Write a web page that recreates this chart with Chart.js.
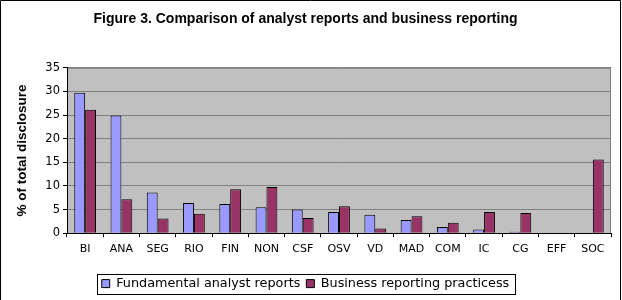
<!DOCTYPE html>
<html>
<head>
<meta charset="utf-8">
<script src="https://cdn.jsdelivr.net/npm/chart.js@4/dist/chart.umd.min.js"></script>
<style>
  html, body { margin: 0; padding: 0; background: #fff; }
  #wrap { position: relative; width: 622px; height: 300px; }
</style>
</head>
<body>
<div id="wrap"><canvas id="chart" width="622" height="300"></canvas></div>
<script>
const categories = ["BI", "ANA", "SEG", "RIO", "FIN", "NON", "CSF", "OSV", "VD", "MAD", "COM", "IC", "CG", "EFF", "SOC"];
const fundamental = [29.7, 24.9, 8.6, 6.4, 6.2, 5.5, 5.0, 4.5, 3.9, 2.8, 1.3, 0.8, 0.3, 0, 0];
const business = [26.1, 7.2, 3.1, 4.1, 9.3, 9.8, 3.2, 5.7, 1.0, 3.6, 2.2, 4.5, 4.3, 0, 15.6];
const yTicks = [0, 5, 10, 15, 20, 25, 30, 35];

const BLUE = "#9999ff";
const RED = "#993366";

// grey plot background + outer frame + legend box
const decor = {
  id: "decor",
  beforeDraw(chart) {
    const { ctx, chartArea: a } = chart;
    ctx.save();
    ctx.fillStyle = "#c0c0c0";
    ctx.fillRect(a.left, a.top, a.right - a.left, a.bottom - a.top);
    ctx.strokeStyle = "#808080";
    ctx.lineWidth = 1;
    ctx.beginPath();
    ctx.moveTo(a.left, a.top + 0.5);
    ctx.lineTo(a.right - 0.5, a.top + 0.5);
    ctx.lineTo(a.right - 0.5, a.bottom);
    ctx.stroke();
    ctx.restore();
  },
  afterDraw(chart) {
    const ctx = chart.ctx;
    ctx.save();
    ctx.strokeStyle = "#000";
    ctx.lineWidth = 1;
    ctx.beginPath();
    ctx.moveTo(0.5, 300);
    ctx.lineTo(0.5, 0.5);
    ctx.lineTo(620.5, 0.5);
    ctx.lineTo(620.5, 300);
    ctx.stroke();

    const hb = chart.legend.legendHitBoxes;
    if (hb && hb.length) {
      const l = Math.min(...hb.map((h) => h.left)) - 5;
      const r = Math.max(...hb.map((h) => h.left + h.width)) + 5;
      const t = hb[0].top - 3;
      const b = hb[0].top + hb[0].height + 4;
      ctx.strokeRect(Math.round(l) + 0.5, Math.round(t) + 0.5, Math.round(r - l), Math.round(b - t));
    }
    ctx.restore();
  },
};

new Chart(document.getElementById("chart"), {
  type: "bar",
  data: {
    labels: categories,
    datasets: [
      {
        label: "Fundamental analyst reports",
        data: fundamental,
        backgroundColor: BLUE,
        borderColor: "#000",
        borderWidth: 1,
        categoryPercentage: 0.6,
        barPercentage: 1.0,
      },
      {
        label: "Business reporting practicess",
        data: business,
        backgroundColor: RED,
        borderColor: "#000",
        borderWidth: 1,
        categoryPercentage: 0.6,
        barPercentage: 1.0,
      },
    ],
  },
  options: {
    responsive: false,
    animation: false,
    layout: { padding: { left: 0, right: 11, top: 0, bottom: 0 } },
    scales: {
      x: {
        grid: {
          display: true,
          drawOnChartArea: false,
          tickLength: 4,
          tickColor: "#000",
        },
        border: { color: "#000" },
        ticks: {
          color: "#000",
          font: { family: "DejaVu Sans", size: 11 },
          padding: 5,
          maxRotation: 0,
          autoSkip: false,
        },
        afterFit(scale) {
          scale.height = 38;
        },
      },
      y: {
        min: 0,
        max: 35,
        afterBuildTicks(scale) {
          scale.ticks = yTicks.map((v) => ({ value: v }));
        },
        grid: {
          color: "#808080",
          tickLength: 4,
          tickColor: "#000",
        },
        border: { color: "#000" },
        ticks: {
          color: "#000",
          font: { family: "DejaVu Sans", size: 11.5 },
          padding: 3,
        },
        title: {
          display: true,
          text: "% of total disclosure",
          color: "#000",
          font: { family: "Liberation Sans", size: 13.5, weight: "bold" },
          padding: { top: 14, bottom: 0 },
        },
        afterFit(scale) {
          scale.width = 67;
        },
      },
    },
    plugins: {
      title: {
        display: true,
        text: "Figure 3. Comparison of analyst reports and business reporting",
        color: "#000",
        font: { family: "Liberation Sans", size: 14, weight: "bold" },
        padding: { top: 11, bottom: 40 },
      },
      legend: {
        position: "bottom",
        labels: {
          color: "#000",
          font: { family: "DejaVu Sans", size: 12.8 },
          boxWidth: 8,
          boxHeight: 8,
          padding: 6,
        },
      },
      tooltip: { enabled: false },
    },
  },
  plugins: [decor],
});
</script>
</body>
</html>
